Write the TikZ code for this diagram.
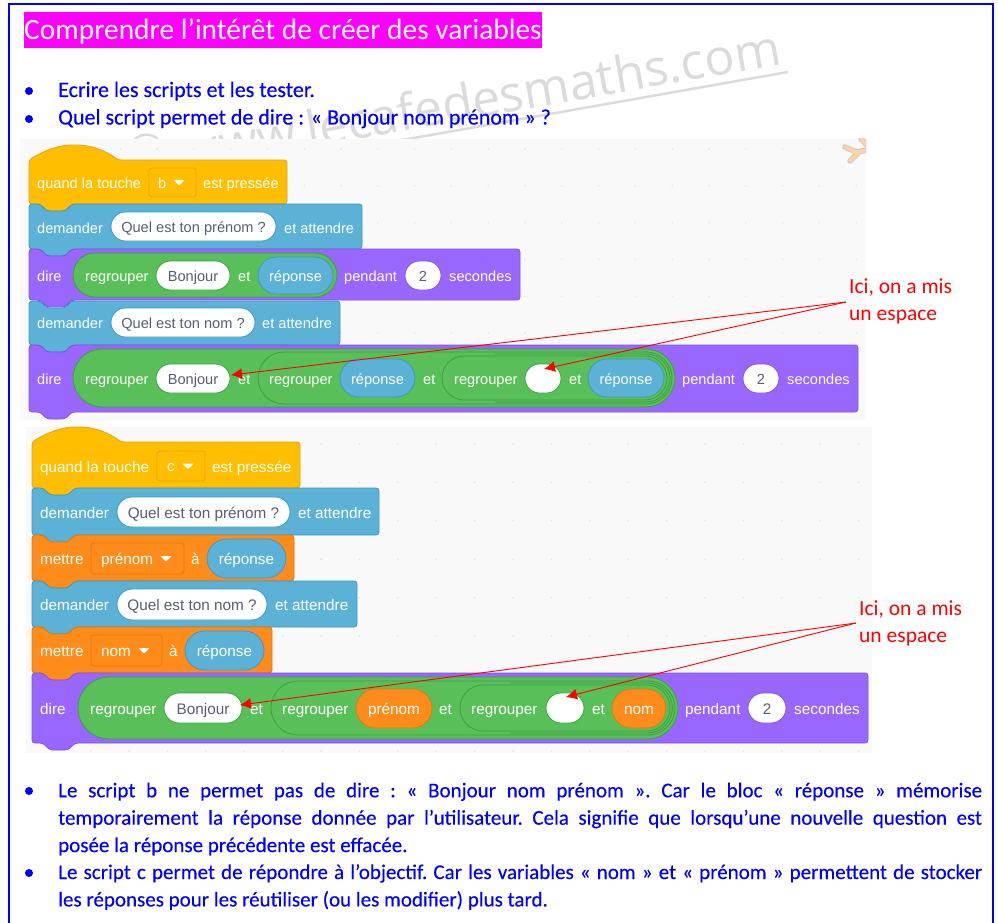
\documentclass[tikz,border=0pt]{standalone}
\usepackage{fontspec}
\usepackage{tikz}
\usetikzlibrary{arrows.meta,shapes.misc}
\setmainfont{Carlito}
\newfontfamily\blockfam{Liberation Sans}
\newfontfamily\markfam{Open Sans}
\newfontfamily\listfam[FakeBold=0.25]{Carlito}
\definecolor{framecol}{HTML}{0000FF}
\definecolor{titlecol}{HTML}{FF00FF}
\definecolor{paneltone}{HTML}{F9F9F9}
\definecolor{hatcol}{HTML}{FFBF00}
\definecolor{hatedge}{HTML}{E0A416}
\definecolor{askcol}{HTML}{5CB1D6}
\definecolor{askedge}{HTML}{3E98C4}
\definecolor{saycol}{HTML}{9966FF}
\definecolor{sayedge}{HTML}{7E55D8}
\definecolor{opcol}{HTML}{59C059}
\definecolor{opedge}{HTML}{3F9F3F}
\definecolor{varcol}{HTML}{FF8C1A}
\definecolor{varedge}{HTML}{DB7A10}
\definecolor{inkcol}{HTML}{575E75}
\newcommand{\bsize}{14.6}
\newcommand{\blockfont}{\fontsize{\bsize}{\bsize}\selectfont\blockfam}
\newcommand{\stackblock}[5]{\draw[#1,rounded corners=3] (#2,#3) -- ({#2+11},#3) -- ({#2+18},{#3+7}) -- ({#2+36},{#3+7}) -- ({#2+43},#3) -- (#4,#3) -- (#4,#5) -- ({#2+43},#5) -- ({#2+36},{#5+7}) -- ({#2+18},{#5+7}) -- ({#2+11},#5) -- (#2,#5) -- cycle;}
\newcommand{\hatblock}[5]{\draw[#1,rounded corners=3] (#2,#3) .. controls ({#2+16},{#3-10}) and ({#2+31},{#3-15}) .. ({#2+45},{#3-15}) .. controls ({#2+61},{#3-15}) and ({#2+76},{#3-10}) .. ({#2+89},#3) -- (#4,#3) -- (#4,#5) -- ({#2+43},#5) -- ({#2+36},{#5+7}) -- ({#2+18},{#5+7}) -- ({#2+11},#5) -- (#2,#5) -- cycle;}
\newcommand{\pillnode}[7]{\node[#1,minimum width={#5pt-#3pt},minimum height={#6pt-#4pt}] (#2) at ({(#3+#5)/2},{(#4+#6)/2}) {};
  \node[#1,rectangle,draw=none,fill=none,yshift=-1.3pt] (#2t) at ({(#3+#5)/2},{(#4+#6)/2}) {#7};}
\newcommand{\menunode}[9]{\node[menubox,draw=#1,minimum width={#5pt-#3pt},minimum height={#6pt-#4pt}] (#2) at ({(#3+#5)/2},{(#4+#6)/2}) {};
  \node[wtxt,yshift=-0.7pt] (#2t) at (#8,{(#4+#6)/2}) {#7};
  \fill[white,rounded corners=0.7] ({#9-5.5},{(#4+#6)/2-2.5}) -- ({#9+5.5},{(#4+#6)/2-2.5}) -- (#9,{(#4+#6)/2+3}) -- cycle;}
\tikzset{
  wtxt/.style={anchor=west,inner sep=0pt,text=white,font=\blockfont,text height=14pt,text depth=4pt},
  hatbk/.style={fill=hatcol,draw=hatedge,line width=0.8pt},
  askbk/.style={fill=askcol,draw=askedge,line width=0.8pt},
  saybk/.style={fill=saycol,draw=sayedge,line width=0.8pt},
  varbk/.style={fill=varcol,draw=varedge,line width=0.8pt},
  rpill/.style={rounded rectangle,inner sep=0pt,line width=0.8pt,font=\blockfont,text height=14pt,text depth=4pt},
  whitepill/.style={rpill,fill=white,text=inkcol,draw=#1},
  askpill/.style={rpill,fill=askcol,text=white,draw=askedge},
  varpill/.style={rpill,fill=varcol,text=white,draw=varedge},
  oppill/.style={rpill,fill=opcol,draw=opedge},
  innerpill/.style={rpill,draw=opedge},
  menubox/.style={rectangle,rounded corners=3,line width=0.8pt,inner sep=0pt},
  griddot/.style={fill=black!12},
  note/.style={anchor=west,inner sep=0pt,text=red,font=\fontsize{21.5}{21.5}\selectfont,text height=17pt,text depth=5pt},
  redarrow/.style={draw=red,line width=0.9pt,-{Latex[length=11pt,width=11pt]}},
  line1/.style={anchor=west,inner sep=0pt,text=framecol,font=\fontsize{22}{22}\selectfont\listfam,text height=16pt,text depth=5pt},
  para/.style={anchor=north west,inner sep=0pt,text=framecol,text width=924pt,align=justify,font=\fontsize{21}{27.4}\selectfont\listfam\frenchspacing},
  bulletdot/.style={circle,fill=framecol,inner sep=0pt,minimum size=8pt},
  wmarktxt/.style={anchor=base east,inner sep=0pt,rotate=10,text=black!14,font=\fontsize{50}{50}\selectfont\markfam}
}
\begin{document}
\begin{tikzpicture}[x=1pt,y=-1pt]
\useasboundingbox (0,0) rectangle (998,923);
\draw[framecol,line width=2.5pt] (9,923) -- (9,4) -- (993,4) -- (993,923);
% watermark
\node[wmarktxt] (wmark) at (783,64) {\raisebox{6pt}{©} www.lecafedesmaths.com};
\coordinate (ula) at (788,72);
\coordinate (ulb) at (130,188);
\draw[black!14,line width=2.5pt] (ula) -- (ulb);
% title and questions
\node[anchor=west,inner sep=0pt,fill=titlecol,text=white,minimum height=36pt,text height=25pt,text depth=5pt,font=\fontsize{29.4}{29.4}\selectfont] (title) at (24,30) {Comprendre l’intérêt de créer des variables};
\node[bulletdot] (dota) at (29,91) {};
\node[bulletdot] (dotb) at (29,119) {};
\node[line1] (linea) at (58,91.5) {Ecrire les scripts et les tester.};
\node[line1] (lineb) at (58,119) {Quel script permet de dire : « Bonjour nom prénom » ?};
% script b
\fill[paneltone] (20,139) rectangle (866,420);
\foreach \px in {0,...,22} \foreach \py in {0,...,7}
  \fill[griddot] ({46.6+36.8*\px},{149+36.8*\py}) circle (0.8);
\begin{scope}
\clip (830,139) rectangle (866,170);
\draw[black!22,line width=5.4pt,line cap=round] (845,147) -- (856,152) -- (868,150) (850,161) -- (858,153) (861,139) -- (868,146);
\draw[orange!35,line width=3.8pt,line cap=round] (845,147) -- (856,152) -- (868,150) (850,161) -- (858,153) (861,139) -- (868,146);
\end{scope}
\hatblock{hatbk}{29}{160}{287}{204}
\node[wtxt] (bha) at (37,183) {quand la touche};
\menunode{hatedge}{bhm}{149}{168}{196}{197}{b}{158}{179}
\node[wtxt] (bhb) at (203,183) {est pressée};
\stackblock{askbk}{29}{204}{362}{249}
\node[wtxt] (bqa) at (37,228) {demander};
\pillnode{whitepill=askedge}{bqp}{111}{212}{276}{241}{Quel est ton prénom ?}
\node[wtxt] (bqb) at (284,228) {et attendre};
\stackblock{saybk}{29}{249}{520}{300}
\node[wtxt] (bda) at (37,276) {dire};
\pillnode{oppill}{bdg}{73}{253}{337}{297}{}
\node[wtxt] (bdb) at (85,276) {regrouper};
\pillnode{whitepill=opedge}{bdp}{156}{261}{230}{290}{Bonjour}
\node[wtxt] (bdc) at (238,276) {et};
\pillnode{askpill}{bdr}{258}{257}{333}{294}{réponse}
\node[wtxt] (bdd) at (344,276) {pendant};
\pillnode{whitepill=sayedge}{bdn}{405}{261}{441}{290}{2}
\node[wtxt] (bde) at (449,276) {secondes};
\stackblock{askbk}{29}{301}{340}{345}
\node[wtxt] (bna) at (37,323) {demander};
\pillnode{whitepill=askedge}{bnp}{111}{308}{255}{337}{Quel est ton nom ?}
\node[wtxt] (bnb) at (262,323) {et attendre};
\stackblock{saybk}{29}{345}{858}{412}
\node[wtxt] (bsa) at (37,379) {dire};
\pillnode{oppill}{bsg}{73}{349}{675}{407}{}
\node[wtxt] (bsb) at (85,379) {regrouper};
\pillnode{whitepill=opedge}{bsp}{156}{364}{230}{393}{Bonjour}
\node[wtxt] (bsc) at (238,379) {et};
\pillnode{innerpill}{bsh}{258}{352}{672}{404}{}
\node[wtxt] (bsd) at (269,379) {regrouper};
\pillnode{askpill}{bsr}{340}{359}{415}{397}{réponse}
\node[wtxt] (bse) at (423,379) {et};
\draw[opedge,line width=0.8pt,rounded corners=24] (495,354) -- (670,354) -- (670,402) -- (495,402);
\pillnode{innerpill}{bsi}{442}{356}{667}{400}{}
\node[wtxt] (bsf) at (454,379) {regrouper};
\pillnode{whitepill=opedge}{bsv}{525}{364}{561}{393}{}
\node[wtxt] (bsj) at (569,379) {et};
\pillnode{askpill}{bss}{588}{359}{664}{397}{réponse}
\node[wtxt] (bsk) at (682,379) {pendant};
\pillnode{whitepill=sayedge}{bsn}{743}{364}{779}{393}{2}
\node[wtxt] (bsl) at (787,379) {secondes};
% script c
\renewcommand{\bsize}{15.3}
\fill[paneltone] (26,427) rectangle (872,753);
\foreach \px in {0,...,21} \foreach \py in {0,...,8}
  \fill[griddot] ({52.2+38.4*\px},{444+38.4*\py}) circle (0.8);
\hatblock{hatbk}{32}{442}{300}{488}
\node[wtxt] (cha) at (40,467) {quand la touche};
\menunode{hatedge}{chm}{157}{451}{205}{481}{c}{167}{188}
\node[wtxt] (chb) at (212,467) {est pressée};
\stackblock{askbk}{32}{488}{379}{535}
\node[wtxt] (cqa) at (40,513) {demander};
\pillnode{whitepill=askedge}{cqp}{117}{497}{290}{527}{Quel est ton prénom ?}
\node[wtxt] (cqb) at (298,513) {et attendre};
\stackblock{varbk}{32}{535}{294}{581}
\node[wtxt] (cma) at (40,559) {mettre};
\menunode{varedge}{cmm}{91}{543}{184}{574}{prénom}{101}{166}
\node[wtxt] (cmb) at (191,559) {à};
\pillnode{askpill}{cmr}{207}{539}{286}{578}{réponse}
\stackblock{askbk}{32}{581}{357}{627}
\node[wtxt] (cna) at (40,605) {demander};
\pillnode{whitepill=askedge}{cnp}{117}{589}{267}{620}{Quel est ton nom ?}
\node[wtxt] (cnb) at (275,605) {et attendre};
\stackblock{varbk}{32}{627}{272}{673}
\node[wtxt] (cva) at (40,651) {mettre};
\menunode{varedge}{cvm}{91}{635}{162}{666}{nom}{101}{144}
\node[wtxt] (cvb) at (169,651) {à};
\pillnode{askpill}{cvr}{185}{631}{264}{670}{réponse}
\stackblock{saybk}{32}{673}{868}{743}
\node[wtxt] (csa) at (40,709) {dire};
\pillnode{oppill}{csg}{78}{677}{678}{739}{}
\node[wtxt] (csb) at (90,709) {regrouper};
\pillnode{whitepill=opedge}{csp}{164}{693}{242}{723}{Bonjour}
\node[wtxt] (csc) at (250,709) {et};
\pillnode{innerpill}{csh}{271}{681}{675}{735}{}
\node[wtxt] (csd) at (282,709) {regrouper};
\pillnode{varpill}{csr}{356}{689}{432}{728}{prénom}
\node[wtxt] (cse) at (439,709) {et};
\draw[opedge,line width=0.8pt,rounded corners=25] (510,683) -- (672.5,683) -- (672.5,733) -- (510,733);
\pillnode{innerpill}{csi}{460}{685}{670}{731}{}
\node[wtxt] (csf) at (471,709) {regrouper};
\pillnode{whitepill=opedge}{csv}{546}{693}{584}{723}{}
\node[wtxt] (csj) at (592,709) {et};
\pillnode{varpill}{css}{612}{689}{666}{728}{nom}
\node[wtxt] (csk) at (685,709) {pendant};
\pillnode{whitepill=sayedge}{csn}{748}{693}{786}{723}{2}
\node[wtxt] (csl) at (794,709) {secondes};
% red notes
\node[note] (noteb) at (849,287) {Ici, on a mis};
\node[note] (notebb) at (849,314) {un espace};
\coordinate (fromb) at (846,302);
\coordinate (tipba) at (231,375);
\coordinate (tipbb) at (544,369);
\draw[redarrow] (fromb) -- (tipba);
\draw[redarrow] (fromb) -- (tipbb);
\node[note] (notec) at (859,609) {Ici, on a mis};
\node[note] (notecc) at (859,636) {un espace};
\coordinate (fromc) at (856,623);
\coordinate (tipca) at (240,705);
\coordinate (tipcb) at (566,697);
\draw[redarrow] (fromc) -- (tipca);
\draw[redarrow] (fromc) -- (tipcb);
% answers
\node[bulletdot] (dotc) at (29,791) {};
\node[bulletdot] (dotd) at (29,873) {};
\node[para] (paraa) at (58,782.5) {Le script b ne permet pas de dire : « Bonjour nom prénom ». Car le bloc « réponse » mémorise\linebreak temporairement la réponse donnée par l’utilisateur. Cela signifie que lorsqu’une nouvelle question est\linebreak posée la réponse précédente est effacée.};
\node[para] (parab) at (58,864) {Le script c permet de répondre à l’objectif. Car les variables « nom » et « prénom » permettent de stocker\linebreak les réponses pour les réutiliser (ou les modifier) plus tard.};
\end{tikzpicture}
\end{document}
